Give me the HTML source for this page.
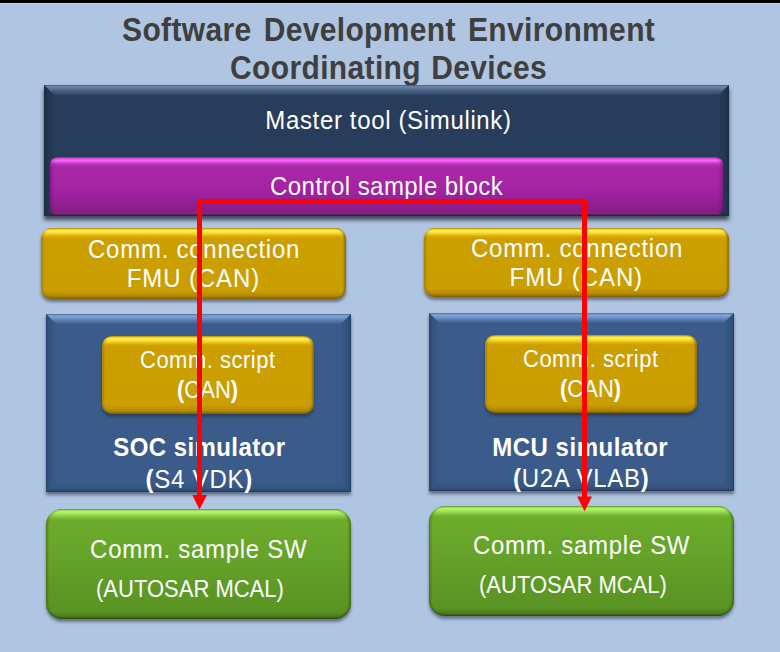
<!DOCTYPE html>
<html><head><meta charset="utf-8">
<style>
html,body{margin:0;padding:0;}
body{width:780px;height:652px;position:relative;overflow:hidden;background:#b0c5e1;font-family:"Liberation Sans",sans-serif;}
.abs{position:absolute;}
.topbar{left:0;top:0;width:780px;height:3px;background:#000;border-bottom:1px solid #bcd2ee;}
.title{left:0;width:780px;text-align:center;font-weight:bold;font-size:30px;color:#3f3f3f;white-space:pre;letter-spacing:0.35px;transform:scaleY(1.09);transform-origin:0 0;line-height:1;}
.t{position:absolute;white-space:pre;color:#fff;line-height:1;transform:scaleY(1.1);transform-origin:0 0;}
/* bevel boxes */
.bev{position:absolute;box-shadow:0 3px 3px rgba(30,40,60,.55);}
.bev > i{position:absolute;display:block;}
.bev .bt{left:0;top:0;right:0;height:10px;clip-path:polygon(0 0,100% 0,calc(100% - 10px) 100%,10px 100%);}
.bev .bl{left:0;top:0;bottom:0;width:10px;clip-path:polygon(0 0,100% 10px,100% calc(100% - 10px),0 100%);}
.bev .br{right:0;top:0;bottom:0;width:10px;clip-path:polygon(0 10px,100% 0,100% 100%,0 calc(100% - 10px));}
.bev .bb{left:0;bottom:0;right:0;height:10px;clip-path:polygon(10px 0,calc(100% - 10px) 0,100% 100%,0 100%);}
.navy{background:#283d5c;}
.navy .bt{background:linear-gradient(#3a5273 0,#6a86a8 1.5px,#5f7a9d 3px,#45607f 6px,#2f4565 10px);}
.navy .bl{background:linear-gradient(90deg,#1c2c44 0,#22354f 3px,#273b59 10px);}
.navy .br{background:linear-gradient(90deg,#273b59 0,#22354f 7px,#1a2a42 10px);}
.navy .bb{background:linear-gradient(#283d5c 0,#22364f 7px,#1b2b44 10px);}
.sim{background:#3b5c8a;}
.sim .bt{background:linear-gradient(#4d6d9c 0,#82a6d8 2px,#7397ca 4px,#5479aa 7px,#3d5f8d 10px);}
.sim .bl{background:linear-gradient(90deg,#2a4874 0,#33547f 4px,#395b88 10px);}
.sim .br{background:linear-gradient(90deg,#385a87 0,#30507c 8px,#233b5e 10px);}
.sim .bb{background:linear-gradient(#3a5b88 0,#335380 7px,#24395a 10px);}
/* rounded glossy boxes */
.gold{position:absolute;border-radius:10px;background:linear-gradient(#d0a400 0,#f0c820 1px,#ffee50 2.5px,#fce848 4px,#f0cc22 6px,#dcb008 8px,#cc9e00 10px,#cb9e00 calc(100% - 9px),#b88d00 calc(100% - 4px),#8c6a00 100%);box-shadow:inset -2px 0 2px rgba(100,70,0,.5),inset 2px 0 2px rgba(110,80,0,.3),0 3px 3px rgba(30,40,60,.5);}
.mag{position:absolute;border-radius:8px;background:linear-gradient(#b030b0 0,#e050e0 1.5px,#ff66ff 3px,#f058f0 4.5px,#c83cc8 6px,#b02eb0 8px,#a828a8 10px,#a424a4 30px,#8e1e8e 51px,#861c86 54px,#7e2c7e 55.5px,#7a2a7a 57px,#5c1458 58px,#4e1048 59px);box-shadow:inset 2px 0 3px rgba(60,0,60,.25),inset -2px 0 3px rgba(60,0,60,.3);}
.green{position:absolute;border-radius:16px;background:linear-gradient(#6aa834 0,#9ad858 1px,#b4f468 2.5px,#a8ea5e 4.5px,#8ccc4a 7px,#72b232 10px,#6cac2a 12px,#66a42a 40%,#5e9a26 70%,#5a9424 calc(100% - 8px),#4c7e1c calc(100% - 3px),#3a6414 100%);box-shadow:inset 2px 0 2px rgba(30,60,0,.3),inset -2px 0 2px rgba(30,60,0,.4),inset 0 -1px 1px rgba(30,60,0,.4),0 3px 3px rgba(30,40,60,.5);}
.red{position:absolute;background:#ff0000;}
b.p{font-weight:bold;}
</style></head>
<body>
<div class="abs topbar"></div>
<div class="abs title" style="top:13.8px;left:-1.4px;word-spacing:3.4px;">Software Development Environment</div>
<div class="abs title" style="top:52.1px;left:-1.4px;word-spacing:1.6px;">Coordinating Devices</div>

<!-- master tool -->
<div class="bev navy" style="box-shadow:0 4px 4px rgba(20,25,32,.72);left:44px;top:85px;width:685px;height:131px;"><i class="bt"></i><i class="bl"></i><i class="br"></i><i class="bb"></i></div>
<div class="t" style="left:265.3px;top:106.7px;font-size:24px;letter-spacing:0.65px;">Master tool (Simulink)</div>
<div class="mag" style="left:50px;top:157px;width:673px;height:59px;"></div>
<div class="t" style="left:270px;top:172.5px;font-size:24px;letter-spacing:0.45px;">Control sample block</div>

<!-- left column -->
<div class="gold" style="left:41px;top:228.3px;width:305px;height:70.7px;"></div>
<div class="t" style="left:88px;top:236.3px;font-size:24px;letter-spacing:0.75px;">Comm. connection</div>
<div class="t" style="left:126.7px;top:265.0px;font-size:24px;letter-spacing:0.9px;">FMU (CAN)</div>

<div class="bev sim" style="left:46px;top:314px;width:305px;height:178px;"><i class="bt"></i><i class="bl"></i><i class="br"></i><i class="bb"></i></div>
<div class="gold" style="left:102.3px;top:336.3px;width:211.7px;height:77.8px;"></div>
<div class="t" style="left:140px;top:348.0px;font-size:22px;letter-spacing:0.5px;">Comm. script</div>
<div class="t" style="left:177px;top:378.5px;font-size:22px;transform:scaleY(1.07);"><b class="p">(</b>CAN<b class="p">)</b></div>
<div class="t" style="left:113.3px;top:433.8px;font-size:24px;font-weight:bold;letter-spacing:0.42px;">SOC simulator</div>
<div class="t" style="left:145.4px;top:466.0px;font-size:24px;letter-spacing:0.8px;"><b class="p">(</b>S4 VDK<b class="p">)</b></div>

<div class="green" style="left:46px;top:509.3px;width:305px;height:109.5px;"></div>
<div class="t" style="left:90.1px;top:535.8px;font-size:24px;letter-spacing:0.7px;">Comm. sample SW</div>
<div class="t" style="left:96px;top:577.0px;font-size:22px;">(AUTOSAR MCAL)</div>

<!-- right column -->
<div class="gold" style="left:424.3px;top:227.5px;width:305px;height:69.5px;"></div>
<div class="t" style="left:471px;top:235.4px;font-size:24px;letter-spacing:0.75px;">Comm. connection</div>
<div class="t" style="left:509.6px;top:264.0px;font-size:24px;letter-spacing:0.9px;">FMU (CAN)</div>

<div class="bev sim" style="left:429px;top:313px;width:305px;height:178px;"><i class="bt"></i><i class="bl"></i><i class="br"></i><i class="bb"></i></div>
<div class="gold" style="left:485px;top:335px;width:212px;height:78px;"></div>
<div class="t" style="left:523px;top:347.0px;font-size:22px;letter-spacing:0.5px;">Comm. script</div>
<div class="t" style="left:560px;top:377.5px;font-size:22px;transform:scaleY(1.07);"><b class="p">(</b>CAN<b class="p">)</b></div>
<div class="t" style="left:492.3px;top:433.8px;font-size:24px;font-weight:bold;letter-spacing:0.5px;">MCU simulator</div>
<div class="t" style="left:513px;top:465.0px;font-size:24px;letter-spacing:0.7px;"><b class="p">(</b>U2A VLAB<b class="p">)</b></div>

<div class="green" style="left:429px;top:506px;width:305px;height:110px;"></div>
<div class="t" style="left:473px;top:531.5px;font-size:24px;letter-spacing:0.7px;">Comm. sample SW</div>
<div class="t" style="left:479px;top:572.5px;font-size:22px;">(AUTOSAR MCAL)</div>

<!-- red connector -->
<svg class="abs" style="left:0;top:0;" width="780" height="652">
  <polyline points="199.5,496 199.5,201.5 584.5,201.5 584.5,497" fill="none" stroke="#ff0000" stroke-width="5" stroke-linejoin="miter"/>
  <polygon points="192.3,495 207,495 199.5,509.5" fill="#ff0000"/>
  <polygon points="577.2,496.5 592,496.5 584.5,511.3" fill="#ff0000"/>
</svg>
</body></html>
